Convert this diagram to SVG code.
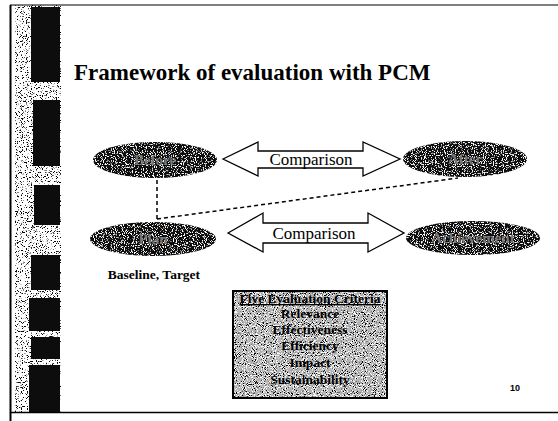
<svg xmlns="http://www.w3.org/2000/svg" width="558" height="421" viewBox="0 0 558 421">
<defs>
<filter id="spW" x="0" y="0" width="1" height="1">
<feTurbulence type="fractalNoise" baseFrequency="0.9" numOctaves="1" seed="4" result="n"/>
<feColorMatrix in="n" type="matrix" values="0 0 0 0 1 0 0 0 0 1 0 0 0 0 1 10 0 0 0 -5.4" result="w"/>
<feComposite in="w" in2="SourceGraphic" operator="in" result="wc"/>
<feMerge><feMergeNode in="SourceGraphic"/><feMergeNode in="wc"/></feMerge>
</filter>
<filter id="spBox" x="0" y="0" width="1" height="1">
<feTurbulence type="fractalNoise" baseFrequency="1.1" numOctaves="1" seed="7" result="n"/>
<feColorMatrix in="n" type="matrix" values="0 0 0 0 0 0 0 0 0 0 0 0 0 0 0 12 0 0 0 -6.8" result="k"/>
<feColorMatrix in="n" type="matrix" values="0 0 0 0 1 0 0 0 0 1 0 0 0 0 1 -12 0 0 0 5.6" result="w"/>
<feMerge result="m"><feMergeNode in="SourceGraphic"/><feMergeNode in="k"/><feMergeNode in="w"/></feMerge>
<feComposite in="m" in2="SourceGraphic" operator="in"/>
</filter>
<filter id="spStrip" x="0" y="0" width="1" height="1">
<feTurbulence type="fractalNoise" baseFrequency="1.2" numOctaves="1" seed="2" result="n"/>
<feColorMatrix in="n" type="matrix" values="0 0 0 0 0 0 0 0 0 0 0 0 0 0 0 12 0 0 0 -6.9" result="k"/>
<feComposite in="k" in2="SourceGraphic" operator="in"/>
</filter>
<filter id="spDark" x="0" y="0" width="1" height="1">
<feTurbulence type="fractalNoise" baseFrequency="1.0" numOctaves="1" seed="9" result="n"/>
<feColorMatrix in="n" type="matrix" values="0 0 0 0 1 0 0 0 0 1 0 0 0 0 1 12 0 0 0 -7.6" result="w"/>
<feComposite in="w" in2="SourceGraphic" operator="in" result="wc"/>
<feMerge><feMergeNode in="SourceGraphic"/><feMergeNode in="wc"/></feMerge>
</filter>
<style>
.ell{fill:#111}
.elab{font-family:"Liberation Serif",serif;font-size:15px;font-weight:bold;fill:#777;text-anchor:middle}
.arr{fill:#fff;stroke:#000;stroke-width:1.3}
.cmp{font-family:"Liberation Serif",serif;font-size:17px;fill:#000;text-anchor:middle}
.dash{fill:none;stroke:#000;stroke-width:1.5;stroke-dasharray:4 3}
.crit{font-family:"Liberation Serif",serif;font-size:13.5px;font-weight:bold;fill:#000;text-anchor:middle}
.ser{font-family:"Liberation Serif",serif;font-weight:bold;fill:#000}
</style>
</defs>
<rect width="558" height="421" fill="#fff"/>
<g id="frame">
<rect x="15" y="5" width="46" height="407" fill="#fff" filter="url(#spStrip)"/>
<g fill="#111" filter="url(#spDark)">
<rect x="31" y="7" width="29" height="75"/>
<rect x="33" y="100" width="27" height="66"/>
<rect x="34" y="185" width="26" height="40"/>
<rect x="31" y="255" width="29" height="35"/>
<rect x="29" y="298" width="31" height="33"/>
<rect x="31" y="337" width="29" height="22"/>
<rect x="29" y="365" width="31" height="47"/>
</g>
<line x1="10" y1="5" x2="558" y2="5" stroke="#000" stroke-width="1.2"/>
<line x1="10.5" y1="5" x2="10.5" y2="421" stroke="#000" stroke-width="2"/>
<line x1="10" y1="412.5" x2="558" y2="412.5" stroke="#000" stroke-width="1.5"/>
</g>
<text id="title" class="ser" x="74" y="80" font-size="23">Framework of evaluation with PCM</text>
<g id="connectors">
<line class="dash" x1="157" y1="180" x2="157" y2="220"/>
<line class="dash" x1="157" y1="219" x2="458" y2="178"/>
<path id="arrowTop" class="arr" d="M223,159 L258,142 L258,151 L363,151 L363,142 L400,159 L363,176 L363,168 L258,168 L258,176 Z"/>
<text class="cmp" x="311" y="165">Comparison</text>
<path id="arrowBottom" class="arr" d="M228,233 L263,213 L263,223 L368,223 L368,213 L404,233 L368,252 L368,243 L263,243 L263,252 Z"/>
<text class="cmp" x="314" y="239">Comparison</text>
</g>
<g id="before">
<ellipse class="ell" cx="155" cy="160" rx="62" ry="18" filter="url(#spW)"/>
<text class="elab" x="155" y="165">Before</text>
</g>
<g id="after">
<ellipse class="ell" cx="465" cy="159" rx="62" ry="18" filter="url(#spW)"/>
<text class="elab" x="465" y="164">After</text>
</g>
<g id="plan">
<ellipse class="ell" cx="153" cy="239" rx="63" ry="17" filter="url(#spW)"/>
<text class="elab" x="153" y="244">Plan</text>
<text class="ser" x="154" y="279" font-size="13.5" text-anchor="middle">Baseline, Target</text>
</g>
<g id="achievement">
<ellipse class="ell" cx="473" cy="238" rx="67" ry="17" filter="url(#spW)"/>
<text class="elab" x="473" y="243">Achievement</text>
</g>
<g id="criteria">
<rect x="233" y="291" width="154" height="107" fill="#b4b4b4" filter="url(#spBox)"/>
<rect x="233" y="291" width="154" height="107" fill="none" stroke="#000" stroke-width="2"/>
<text class="crit" x="310" y="303" text-decoration="underline">Five Evaluation Criteria</text>
<text class="crit" x="310" y="318">Relevance</text>
<text class="crit" x="310" y="334">Effectiveness</text>
<text class="crit" x="310" y="350">Efficiency</text>
<text class="crit" x="310" y="367">Impact</text>
<text class="crit" x="310" y="384">Sustainability</text>
</g>
<text id="pagenum" x="510" y="391" font-family="'Liberation Sans',sans-serif" font-size="9" font-weight="bold" fill="#000">10</text>
</svg>
